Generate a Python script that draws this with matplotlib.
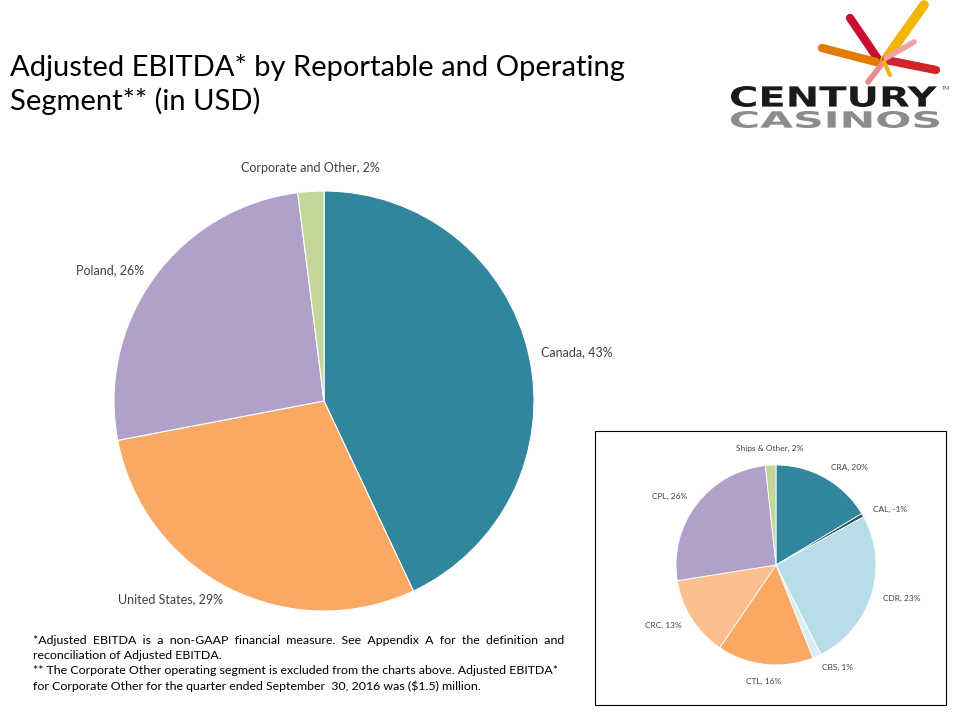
import numpy as np
import matplotlib
matplotlib.use("Agg")
from matplotlib import pyplot as plt
from matplotlib.patches import Rectangle, PathPatch
from matplotlib.textpath import TextPath
from matplotlib.font_manager import FontProperties
from matplotlib.transforms import Affine2D

plt.rcParams['font.family'] = ['Lato', 'DejaVu Sans']

# reportable segments (big pie)
seg_names = ["Canada", "United States", "Poland", "Corporate and Other"]
seg_pct = [43, 29, 26, 2]
seg_colors = ["#31859C", "#F9A963", "#B1A0C7", "#C4D79B"]

# operating segments (small pie), slice sizes, labels as printed
op_names = ["CRA", "CAL", "CDR", "CBS", "CTL", "CRC", "CPL", "Ships & Other"]
op_size = [16.4, 0.6, 25.6, 1.4, 15.5, 13.0, 25.8, 1.7]
op_label_pct = [20, -1, 23, 1, 16, 13, 26, 2]
op_colors = ["#31859C", "#2B5A6A", "#B7DEE8", "#DAEEF3", "#F9A963", "#FAC090", "#B1A0C7", "#C4D79B"]

W, H = 960, 720
fig = plt.figure(figsize=(9.6, 7.2), dpi=100)


def box(x0, y0, x1, y1):
    # pixel box (top-left origin) -> figure fraction
    return [x0 / W, 1 - y1 / H, (x1 - x0) / W, (y1 - y0) / H]


def put_labels(ax, wedges, labels, dist, size):
    for w, lab in zip(wedges, labels):
        mid = np.deg2rad((w.theta1 + w.theta2) / 2)
        x, y = np.cos(mid) * dist, np.sin(mid) * dist
        if abs(np.cos(mid)) < 0.2:
            ha = "center"
            y = y + 0.05 * np.sign(y)
        elif x > 0:
            ha = "left"
        else:
            ha = "right"
        ax.text(x, y, lab, ha=ha, va="center", fontsize=size, color="#404040", clip_on=False)


# big pie
ax1 = fig.add_axes(box(114, 191, 534, 611))
w1, _ = ax1.pie(seg_pct, colors=seg_colors, startangle=90, counterclock=False,
                wedgeprops=dict(edgecolor="white", linewidth=0.8))
ax1.set_xlim(-1, 1)
ax1.set_ylim(-1, 1)
ax1.set_aspect("equal")
ax1.axis("off")
put_labels(ax1, w1, [f"{n}, {p}%" for n, p in zip(seg_names, seg_pct)], 1.06, 9)

# small pie with frame
fig.patches.append(Rectangle((595 / W, 1 - 705 / H), 351 / W, 274 / H, transform=fig.transFigure,
                             fill=False, edgecolor="black", linewidth=0.8))
ax2 = fig.add_axes(box(676, 465, 876, 665))
w2, _ = ax2.pie(op_size, colors=op_colors, startangle=90, counterclock=False,
                wedgeprops=dict(edgecolor="white", linewidth=0.6))
ax2.set_xlim(-1, 1)
ax2.set_ylim(-1, 1)
ax2.set_aspect("equal")
ax2.axis("off")
put_labels(ax2, w2, [f"{n}, {p}%" for n, p in zip(op_names, op_label_pct)], 1.12, 6)

# title
fig.text(10 / W, 1 - 54 / H, "Adjusted EBITDA* by Reportable and Operating\nSegment** (in USD)",
         ha="left", va="top", fontsize=21, color="black", linespacing=1.3)

# footnote
notes = ("*Adjusted  EBITDA  is  a  non-GAAP  financial  measure.  See  Appendix  A  for  the  definition  and\n"
         "reconciliation of Adjusted EBITDA.\n"
         "** The Corporate Other operating segment is excluded from the charts above. Adjusted EBITDA*\n"
         "for Corporate Other for the quarter ended September  30, 2016 was ($1.5) million.")
fig.text(33 / W, 1 - 635 / H, notes, ha="left", va="top", fontsize=8.9, color="black", linespacing=1.45)

# logo
lg = fig.add_axes(box(720, 0, 960, 140))
lg.set_xlim(720, 960)
lg.set_ylim(140, 0)
lg.axis("off")
strokes = [((850, 18), (880, 62), "#C8102E", 6),
           ((924, 5), (885, 60), "#F2B705", 7),
           ((822, 48), (876, 62), "#E07B00", 6),
           ((936, 70), (886, 60), "#D2232A", 6),
           ((868, 82), (882, 64), "#E98A8A", 4),
           ((914, 42), (886, 58), "#EFA3A0", 4),
           ((890, 75), (884, 62), "#F2B705", 3)]
for (xa, ya), (xb, yb), c, lw in strokes:
    lg.plot([xa, xb], [ya, yb], color=c, linewidth=lw, solid_capstyle="round")


def word(ax, s, x0, y0, x1, y1, color):
    # draw a word stretched to fill a pixel box
    tp = TextPath((0, 0), s, size=1, prop=FontProperties(family="DejaVu Sans", weight="bold"))
    ext = tp.get_extents()
    tr = (Affine2D().translate(-ext.x0, -ext.y0)
          .scale((x1 - x0) / ext.width, -(y1 - y0) / ext.height)
          .translate(x0, y1))
    ax.add_patch(PathPatch(tr.transform_path(tp), facecolor=color, edgecolor="none"))


word(lg, "CENTURY", 731, 86, 937, 107, "#1A1A1A")
word(lg, "CASINOS", 731, 111, 939, 128, "#8C8C8C")
lg.text(946, 89, "TM", ha="center", va="center", fontsize=4, color="#555555")

fig.savefig("out.png", dpi=100)
